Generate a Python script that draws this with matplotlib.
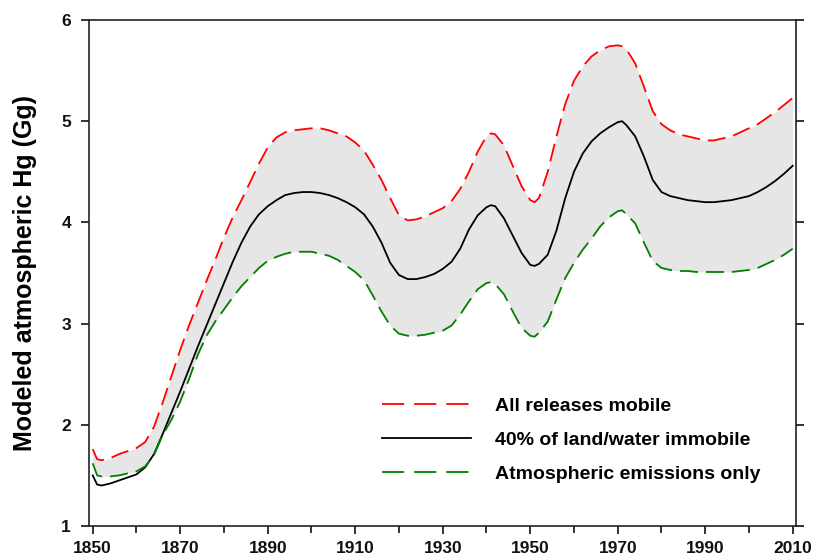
import matplotlib
matplotlib.use("Agg")
import matplotlib.pyplot as plt
from matplotlib.lines import Line2D

plt.rcParams['font.family'] = ['Liberation Sans', 'DejaVu Sans']
plt.rcParams['font.weight'] = 'bold'

years = [1850, 1851, 1852, 1854, 1856, 1858, 1860, 1862, 1864, 1866, 1868,
         1870, 1872, 1874, 1876, 1878, 1880, 1882, 1884, 1886, 1888, 1890,
         1892, 1894, 1896, 1898, 1900, 1902, 1904, 1906, 1908, 1910, 1912,
         1914, 1916, 1918, 1920, 1922, 1924, 1926, 1928, 1930, 1932, 1934,
         1936, 1938, 1940, 1941, 1942, 1944, 1946, 1948, 1950, 1951, 1952,
         1954, 1956, 1958, 1960, 1962, 1964, 1966, 1968, 1970, 1971, 1972,
         1974, 1976, 1978, 1980, 1982, 1984, 1986, 1988, 1990, 1992, 1994,
         1996, 1998, 2000, 2002, 2004, 2006, 2008, 2010]

# all releases mobile
hg_mobile = [1.76, 1.66, 1.65, 1.67, 1.71, 1.74, 1.77, 1.83, 1.98, 2.22, 2.48,
             2.74, 2.98, 3.20, 3.42, 3.63, 3.85, 4.05, 4.22, 4.40, 4.58, 4.74,
             4.84, 4.89, 4.91, 4.92, 4.93, 4.93, 4.91, 4.88, 4.85, 4.79, 4.71,
             4.57, 4.42, 4.24, 4.07, 4.02, 4.03, 4.06, 4.10, 4.14, 4.21, 4.33,
             4.50, 4.70, 4.85, 4.88, 4.87, 4.76, 4.56, 4.36, 4.22, 4.20, 4.24,
             4.50, 4.85, 5.17, 5.40, 5.54, 5.64, 5.70, 5.74, 5.75, 5.74, 5.71,
             5.57, 5.34, 5.10, 4.97, 4.91, 4.87, 4.85, 4.83, 4.81, 4.81, 4.83,
             4.85, 4.89, 4.93, 4.97, 5.03, 5.09, 5.16, 5.23]

# 40% of land/water immobile
hg_40pct = [1.50, 1.41, 1.40, 1.42, 1.45, 1.48, 1.51, 1.58, 1.71, 1.91, 2.12,
            2.33, 2.55, 2.77, 2.98, 3.19, 3.40, 3.61, 3.80, 3.96, 4.08, 4.16,
            4.22, 4.27, 4.29, 4.30, 4.30, 4.29, 4.27, 4.24, 4.20, 4.15, 4.08,
            3.96, 3.80, 3.60, 3.48, 3.44, 3.44, 3.46, 3.49, 3.54, 3.61, 3.74,
            3.93, 4.07, 4.15, 4.17, 4.16, 4.04, 3.87, 3.70, 3.58, 3.57, 3.59,
            3.68, 3.92, 4.24, 4.50, 4.68, 4.80, 4.88, 4.94, 4.99, 5.00, 4.96,
            4.85, 4.65, 4.42, 4.30, 4.26, 4.24, 4.22, 4.21, 4.20, 4.20, 4.21,
            4.22, 4.24, 4.26, 4.30, 4.35, 4.41, 4.48, 4.56]

# atmospheric emissions only
hg_atmos = [1.62, 1.50, 1.49, 1.49, 1.50, 1.52, 1.54, 1.59, 1.70, 1.90, 2.05,
            2.23, 2.45, 2.69, 2.88, 3.02, 3.14, 3.26, 3.37, 3.46, 3.55, 3.62,
            3.66, 3.69, 3.71, 3.71, 3.71, 3.69, 3.67, 3.63, 3.57, 3.51, 3.43,
            3.28, 3.12, 2.98, 2.90, 2.88, 2.88, 2.89, 2.91, 2.93, 2.98, 3.09,
            3.22, 3.34, 3.40, 3.41, 3.39, 3.29, 3.12, 2.96, 2.88, 2.87, 2.91,
            3.02, 3.24, 3.45, 3.60, 3.73, 3.84, 3.96, 4.05, 4.11, 4.12, 4.08,
            3.99, 3.80, 3.62, 3.55, 3.53, 3.52, 3.52, 3.51, 3.51, 3.51, 3.51,
            3.51, 3.52, 3.53, 3.55, 3.59, 3.63, 3.68, 3.74]

labels = ["All releases mobile", "40% of land/water immobile",
          "Atmospheric emissions only"]

fig = plt.figure(figsize=(8.14, 5.6), dpi=100)
ax = fig.add_axes([89/814, 1 - 526/560, (796 - 89)/814, (526 - 20)/560])

ax.fill_between(years, hg_atmos, hg_mobile, color='#e6e6e6', lw=0)
ax.plot(years, hg_mobile, color='red', lw=1.3, dashes=(10, 4.4))
ax.plot(years, hg_40pct, color='black', lw=1.3)
ax.plot(years, hg_atmos, color='green', lw=1.3, dashes=(10, 4.4))

ax.set_xlim(1849.15, 2010.75)
ax.set_ylim(1, 6)
ax.set_xticks(range(1850, 2011, 20))
ax.set_xticks(range(1860, 2001, 20), minor=True)
ax.set_yticks(range(1, 7))
ax.tick_params(which='both', direction='out', right=True, top=False,
               width=1.2, labelsize=12.5, colors='#111111')
ax.tick_params(which='major', length=6, pad=7)
ax.tick_params(axis='x', which='major', pad=5)
ax.tick_params(which='minor', length=5)
for s in ax.spines.values():
    s.set_linewidth(1.2)
    s.set_color('#222222')

fig.text(25/814, 1 - 273/560, "Modeled atmospheric Hg (Gg)", rotation=90,
         ha='center', va='center', fontsize=18, fontweight='bold')

handles = [Line2D([], [], color='red', lw=1.3, dashes=(12.3, 5.5)),
           Line2D([], [], color='black', lw=1.3),
           Line2D([], [], color='green', lw=1.3, dashes=(12.3, 5.5))]
ax.legend(handles, labels, loc='upper left', bbox_to_anchor=(382/814, 1 - 397/560),
          bbox_transform=fig.transFigure, frameon=False, fontsize=14,
          handlelength=4.6, handletextpad=1.2, labelspacing=0.86, borderpad=0,
          borderaxespad=0)

fig.savefig("out.png", dpi=100)
